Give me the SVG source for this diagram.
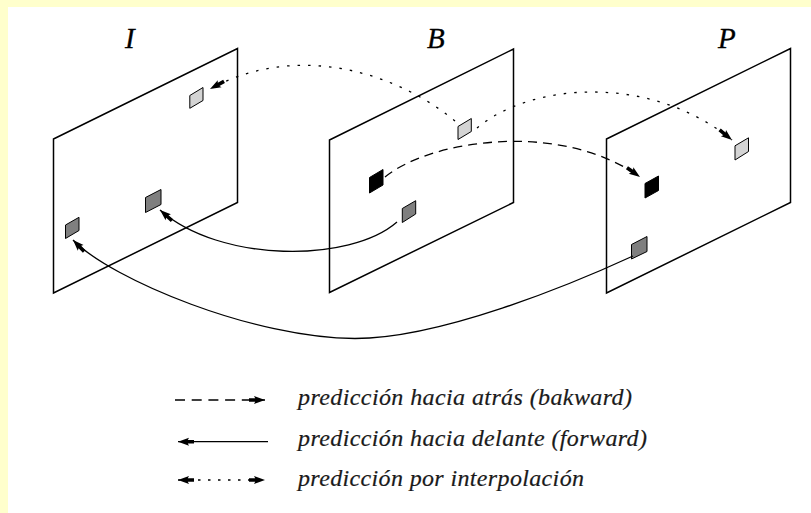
<svg xmlns="http://www.w3.org/2000/svg" width="811" height="513" viewBox="0 0 811 513">
  <style>
    .frame { fill: none; stroke: #000; stroke-width: 1.5; stroke-linejoin: miter; }
    .blk { stroke: #000; stroke-width: 1; stroke-linejoin: miter; }
    .light { fill: #d4d4d4; }
    .dark { fill: #7f7f7f; }
    .black { fill: #000; }
    .conn { fill: none; stroke: #000; stroke-width: 1.3; }
    .dashed { stroke-dasharray: 9 6; }
    .dotted { stroke-dasharray: 2.5 8; }
    .lbl { font-family: "Liberation Serif", "Times New Roman", serif; font-style: italic; font-size: 29px; fill: #000; stroke: #000; stroke-width: 0.3; }
    .leg { font-family: "Liberation Serif", "Times New Roman", serif; font-style: italic; font-size: 24px; fill: #1a1a1a; stroke: #1a1a1a; stroke-width: 0.2; }
  </style>
  <defs>
    <marker id="arrow" markerUnits="userSpaceOnUse" markerWidth="18" markerHeight="10" refX="16" refY="5" orient="auto-start-reverse" overflow="visible">
      <path d="M16,5 L5,1 L6.2,3.2 L0,3.2 L0,6.8 L6.2,6.8 L5,9 Z" fill="#000"/>
    </marker>
  </defs>

  <!-- page background with pale border -->
  <rect x="0" y="0" width="811" height="513" fill="#ffffcc"/>
  <rect x="8" y="7" width="803" height="506" fill="#ffffff"/>

  <!-- frame I -->
  <g id="frame-I">
    <path class="frame" d="M53.5,139 L237.5,48.5 L237.5,202.5 L53.5,293 Z"/>
    <text class="lbl" x="125" y="48">I</text>
    <path class="blk light" d="M189.8,95.5 L203,87.5 L203,100.5 L189.8,108.3 Z"/>
    <path class="blk dark" d="M145.5,197.5 L161,189.5 L161,204.5 L145.5,212.5 Z"/>
    <path class="blk dark" d="M65.5,225 L79,217.3 L79,230.5 L65.5,238.5 Z"/>
  </g>

  <!-- frame B -->
  <g id="frame-B">
    <path class="frame" d="M329.5,140 L513.5,49 L513.5,202.5 L329.5,292.5 Z"/>
    <text class="lbl" x="427" y="48">B</text>
    <path class="blk light" d="M458,126.5 L471.3,118.5 L471.3,131.5 L458,139.5 Z"/>
    <path class="blk black" d="M369.5,177.5 L383,169.5 L383,185 L369.5,193 Z"/>
    <path class="blk dark" d="M402.3,208.5 L415.7,200.7 L415.7,214 L402.3,222.5 Z"/>
  </g>

  <!-- frame P -->
  <g id="frame-P">
    <path class="frame" d="M606.5,139 L790.5,48.5 L790.5,202.5 L606.5,293 Z"/>
    <text class="lbl" x="718" y="48">P</text>
    <path class="blk black" d="M645,183.5 L658.5,176 L658.5,190.5 L645,198 Z"/>
    <path class="blk light" d="M735,145.8 L748.5,137.8 L748.5,151.5 L735,160 Z"/>
    <path class="blk dark" d="M631.5,244.5 L647,236.5 L647,251.5 L631.5,259 Z"/>
  </g>

  <!-- prediction connectors -->
  <g id="connectors">
    <!-- interpolation B -> I -->
    <path class="conn dotted" d="M455,121 C400,75 300,40 210,89" marker-end="url(#arrow)"/>
    <!-- interpolation B -> P -->
    <path class="conn dotted" d="M477,128 C530,83 650,73 732,140" marker-end="url(#arrow)"/>
    <!-- backward B -> P -->
    <path class="conn dashed" d="M385,177 C430,140 560,120 640,177" marker-end="url(#arrow)"/>
    <!-- forward B -> I -->
    <path class="conn" d="M397,222 C350,263 220,263 160,210" marker-end="url(#arrow)"/>
    <!-- forward P -> I -->
    <path class="conn" d="M633,256 C570,285 440,338.5 355,338.5 C255,338.5 112,280 73,240" marker-end="url(#arrow)"/>
  </g>

  <!-- legend -->
  <g id="legend">
    <path class="conn" d="M175,400 L265,400" stroke-dasharray="10 6.7" marker-end="url(#arrow)"/>
    <text class="leg" x="298" y="405" textLength="334">predicción hacia atrás (bakward)</text>
    <path class="conn" d="M268,441.7 L178,441.7" marker-end="url(#arrow)"/>
    <text class="leg" x="298" y="446" textLength="349">predicción hacia delante (forward)</text>
    <path class="conn" d="M178,480 L265,480" stroke-dasharray="2.5 7.5" marker-start="url(#arrow)" marker-end="url(#arrow)"/>
    <text class="leg" x="298" y="486" textLength="286">predicción por interpolación</text>
  </g>
</svg>
